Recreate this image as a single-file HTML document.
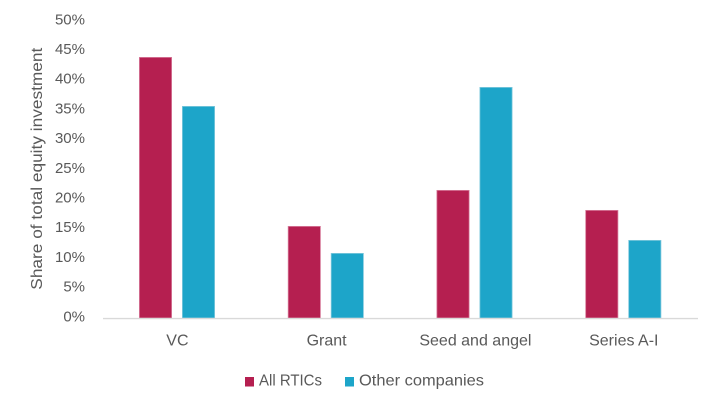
<!DOCTYPE html>
<html>
<head>
<meta charset="utf-8">
<style>
  html, body { margin: 0; padding: 0; background: #ffffff; }
  svg { display: block; }
  text { font-family: "Liberation Sans", Arial, sans-serif; fill: #595959; }
</style>
</head>
<body>
<svg width="718" height="409" viewBox="0 0 718 409" xmlns="http://www.w3.org/2000/svg">
  <rect x="0" y="0" width="718" height="409" fill="#ffffff"/>

  <!-- Y axis title -->
  <text transform="translate(42,168.7) rotate(-90)" text-anchor="middle" font-size="16" textLength="242" lengthAdjust="spacingAndGlyphs">Share of total equity investment</text>

  <!-- Y tick labels -->
  <g font-size="15" text-anchor="end">
    <text x="85" y="24.3">50%</text>
    <text x="85" y="54">45%</text>
    <text x="85" y="83.7">40%</text>
    <text x="85" y="113.4">35%</text>
    <text x="85" y="143.1">30%</text>
    <text x="85" y="172.8">25%</text>
    <text x="85" y="202.5">20%</text>
    <text x="85" y="232.2">15%</text>
    <text x="85" y="261.9">10%</text>
    <text x="85" y="291.6">5%</text>
    <text x="85" y="321.3">0%</text>
  </g>

  <!-- Bars: All RTICs -->
  <g fill="#B51F50" stroke="#D77C9B" stroke-width="0.8">
    <rect x="139.4" y="57.4" width="32.2" height="260.6"/>
    <rect x="288.2" y="226.4" width="32.2" height="91.6"/>
    <rect x="436.9" y="190.4" width="32.2" height="127.6"/>
    <rect x="585.7" y="210.4" width="32.2" height="107.6"/>
  </g>
  <!-- Bars: Other companies -->
  <g fill="#1DA5C9" stroke="#7FC8DD" stroke-width="0.8">
    <rect x="182.4" y="106.4" width="32.2" height="211.6"/>
    <rect x="331.2" y="253.4" width="32.2" height="64.6"/>
    <rect x="479.9" y="87.4" width="32.2" height="230.6"/>
    <rect x="628.7" y="240.4" width="32.2" height="77.6"/>
  </g>

  <!-- X axis line -->
  <line x1="103" y1="318.6" x2="698" y2="318.6" stroke="#d9d9d9" stroke-width="1.4"/>

  <!-- Category labels -->
  <g font-size="16" text-anchor="middle">
    <text x="177.4" y="345.5">VC</text>
    <text x="326.6" y="345.5">Grant</text>
    <text x="475.4" y="345.5">Seed and angel</text>
    <text x="623.8" y="345.5">Series A-I</text>
  </g>

  <!-- Legend -->
  <rect x="245" y="377" width="9" height="9.5" fill="#B51F50"/>
  <text x="259" y="385.5" font-size="16" textLength="63" lengthAdjust="spacingAndGlyphs">All RTICs</text>
  <rect x="345" y="377" width="9" height="9.5" fill="#1DA5C9"/>
  <text x="359" y="385.5" font-size="16" textLength="125" lengthAdjust="spacingAndGlyphs">Other companies</text>
</svg>
</body>
</html>
